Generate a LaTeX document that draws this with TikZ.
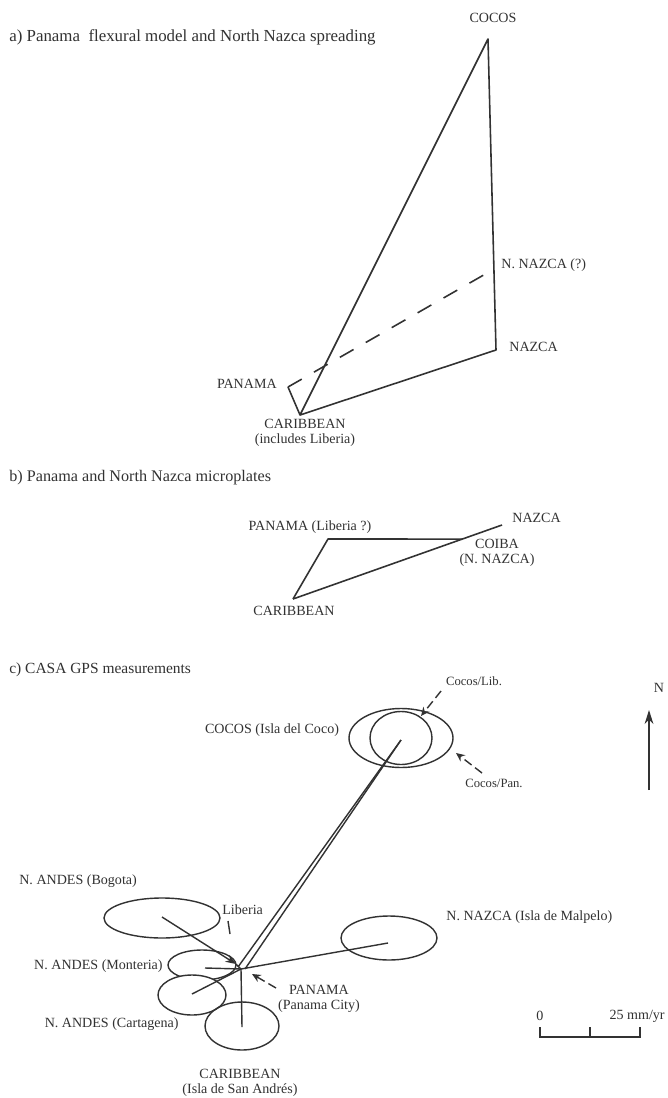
\documentclass[tikz,border=0pt]{standalone}
\usepackage{fontspec}
\setmainfont{Liberation Serif}
\usetikzlibrary{arrows.meta, calc}
\definecolor{inkcolor}{RGB}{50,50,50}

\begin{document}
\begin{tikzpicture}[x=0.02cm, y=-0.02cm,
    every node/.style={font=\fontsize{8}{8.6}\selectfont, text=inkcolor, inner sep=0pt},
    titletext/.style={font=\fontsize{9.6}{11}\selectfont},
    smalltext/.style={font=\fontsize{7.2}{8}\selectfont},
    plate/.style={draw=inkcolor, line width=0.9pt, line join=round},
    errell/.style={draw=inkcolor, line width=0.8pt},
    vec/.style={draw=inkcolor, line width=0.8pt},
    pointer/.style={draw=inkcolor, line width=0.8pt, dash pattern=on 5pt off 2.5pt, -{Stealth[length=5pt, width=4.5pt]}}]

\useasboundingbox (0,0) rectangle (667,1098);
\fill[white] (0,0) rectangle (667,1098);

% a) flexural model
\node[titletext, anchor=west] (titleA) at (9,37) {a) Panama\ \ flexural model and North Nazca spreading};

\coordinate (cocosA) at (488,39);
\coordinate (nazcaA) at (496,350);
\coordinate (nnazcaA) at ($(cocosA)!0.74!(nazcaA)$);
\coordinate (panamaA) at (288,387);
\coordinate (caribA) at (300,415);

\draw[plate] (caribA) -- (cocosA) -- (nazcaA) -- cycle;
\draw[plate] (caribA) -- (panamaA);
\draw[plate, dash pattern=on 9pt off 8pt] (panamaA) -- (nnazcaA);

\node (cocosLblA) at (493,18) {COCOS};
\node[anchor=west] (nnazcaLblA) at (501,265) {N. NAZCA (?)};
\node[anchor=west] (nazcaLblA) at (509,347) {NAZCA};
\node[anchor=east] (panamaLblA) at (277,384) {PANAMA};
\node[align=center] (caribLblA) at (305,433) {CARIBBEAN\\(includes Liberia)};

% b) microplates
\node[titletext, font=\fontsize{9.2}{11}\selectfont, anchor=west] (titleB) at (9,478) {b) Panama and North Nazca microplates};

\coordinate (caribB) at (293,599);
\coordinate (nazcaB) at (502,525);
\coordinate (coibaB) at ($(caribB)!0.81!(nazcaB)$);
\coordinate (panamaB) at (328,539);

\draw[plate] (caribB) -- (panamaB) -- (coibaB);
\draw[plate] (caribB) -- (nazcaB);

\node (panamaLblB) at (310,527) {PANAMA (Liberia ?)};
\node[anchor=west] (nazcaLblB) at (512,518) {NAZCA};
\node[align=center] (coibaLblB) at (497,553) {COIBA\\(N. NAZCA)};
\node (caribLblB) at (294,611) {CARIBBEAN};

% c) GPS measurements
\node[titletext, font=\fontsize{8.8}{10}\selectfont, anchor=west] (titleC) at (9,670) {c) CASA GPS measurements};

\coordinate (cocosC) at (401,740);
\coordinate (panamaC) at (241,969);
\coordinate (liberiaC) at (236,964);
\coordinate (cocosLibEnd) at (238,967);
\coordinate (cocosPanEnd) at (245,969);
\coordinate (bogotaC) at (162,917);
\coordinate (monteriaC) at (205,968);
\coordinate (cartagenaC) at (192,994);
\coordinate (caribC) at (242,1027);
\coordinate (malpeloC) at (388,943);

% error ellipses
\draw[errell] (401,738) ellipse [x radius=52, y radius=29.5];
\draw[errell] (401,738) ellipse [x radius=31, y radius=26.5];
\draw[errell] (162,918) ellipse [x radius=58, y radius=20];
\draw[errell] (202,965) ellipse [x radius=34, y radius=15];
\draw[errell, fill=white] (192,995) ellipse [x radius=34, y radius=20];
\draw[errell] (242,1026) ellipse [x radius=37, y radius=24];
\draw[errell] (389,938) ellipse [x radius=48, y radius=22];

% velocity vectors
\draw[vec] (cocosC) -- (cocosLibEnd);
\draw[vec] (cocosC) -- (cocosPanEnd);
\draw[vec, -{Stealth[length=6pt, width=4.5pt]}] (bogotaC) -- (liberiaC);
\draw[vec] (liberiaC) -- (panamaC);
\draw[vec] (monteriaC) -- (panamaC);
\draw[vec] (cartagenaC) -- (panamaC);
\draw[vec] (caribC) -- (panamaC);
\draw[vec] (malpeloC) -- (panamaC);

% labels
\node (cocosLblC) at (272,730) {COCOS (Isla del Coco)};
\node[smalltext] (cocosLibLbl) at (474,681) {Cocos/Lib.};
\node[smalltext] (cocosPanLbl) at (494,783) {Cocos/Pan.};
\node[anchor=west] (bogotaLbl) at (19,881) {N. ANDES (Bogota)};
\node[anchor=west] (liberiaLbl) at (222,910) {Liberia};
\node[anchor=east] (monteriaLbl) at (163,966) {N. ANDES (Monteria)};
\node[anchor=east] (cartagenaLbl) at (179,1024) {N. ANDES (Cartagena)};
\node[anchor=west] (malpeloLbl) at (446,917) {N. NAZCA (Isla de Malpelo)};
\node[align=center] (panamaLblC) at (319,999) {PANAMA\\(Panama City)};
\node[align=center] (caribLblC) at (240,1083) {CARIBBEAN\\(Isla de San Andr\'es)};

% pointers
\coordinate (cocosLibTail) at (441,691);
\coordinate (cocosLibTip) at (421,716);
\coordinate (cocosPanTail) at (482,773);
\coordinate (cocosPanTip) at (456,753);
\coordinate (panamaTail) at (276,988);
\coordinate (panamaTip) at (252,974);
\coordinate (liberiaTickA) at (228,921);
\coordinate (liberiaTickB) at (230,934);
\draw[pointer] (cocosLibTail) -- (cocosLibTip);
\draw[pointer] (cocosPanTail) -- (cocosPanTip);
\draw[pointer] (panamaTail) -- (panamaTip);
\draw[vec] (liberiaTickA) -- (liberiaTickB);

% north arrow
\node (northLbl) at (659,688) {N};
\coordinate (northTail) at (649,790);
\coordinate (northTip) at (649,710);
\draw[vec, -{Stealth[length=8pt, width=5pt]}] (northTail) -- (northTip);

% scale bar
\coordinate (scaleL) at (540,1037);
\coordinate (scaleM) at (590,1037);
\coordinate (scaleR) at (640,1037);
\draw[vec] (scaleL) ++(0,-10) -- (scaleL) -- (scaleR) -- ++(0,-10);
\draw[vec] (scaleM) -- ++(0,-10);
\node (zeroLbl) at (540,1016) {0};
\node[anchor=east] (rateLbl) at (665,1016) {25 mm/yr};

\end{tikzpicture}
\end{document}
